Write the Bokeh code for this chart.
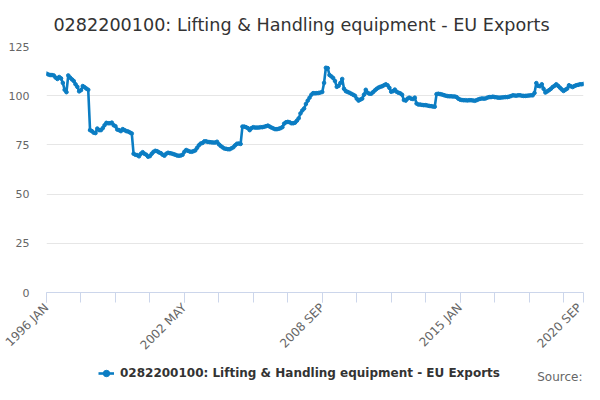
import math
from bokeh.plotting import figure
from bokeh.layouts import column
from bokeh.models import (Range1d, FixedTicker, Label, Legend, LegendItem, ColumnDataSource)
from bokeh.embed import file_html
from bokeh.resources import INLINE

title_text = "0282200100: Lifting & Handling equipment - EU Exports"
series_name = "0282200100: Lifting & Handling equipment - EU Exports"
source_text = "Source:"

month_names = ["JAN", "FEB", "MAR", "APR", "MAY", "JUN", "JUL", "AUG", "SEP", "OCT", "NOV", "DEC"]
years = list(range(1996, 2021))
categories = [f"{y} {m}" for y in years for m in month_names][:297]  # 1996 JAN .. 2020 SEP

values_1996 = [111.2, 110.8, 110.5, 110.5, 110.3, 109.2, 108.5, 109.5, 108.8, 106.5, 103.0, 101.8]
values_1997 = [110.3, 109.2, 108.3, 107.5, 105.8, 104.5, 102.2, 102.8, 104.9, 104.3, 103.6, 103.0]
values_1998 = [82.5, 82.0, 81.2, 81.0, 83.3, 82.5, 82.5, 83.5, 85.0, 86.2, 86.0, 86.0]
values_1999 = [86.3, 85.0, 84.5, 82.8, 82.5, 82.0, 83.0, 82.5, 82.0, 81.8, 81.3, 80.8]
values_2000 = [70.5, 70.0, 69.8, 69.2, 70.5, 71.3, 70.5, 70.0, 69.0, 69.3, 70.5, 71.5]
values_2001 = [72.0, 71.8, 71.2, 70.8, 70.0, 69.5, 70.5, 71.0, 70.8, 70.6, 70.3, 70.0]
values_2002 = [69.6, 69.5, 69.6, 70.0, 71.5, 72.4, 72.0, 71.6, 71.5, 71.8, 72.2, 73.5]
values_2003 = [74.8, 75.7, 76.0, 76.8, 76.8, 76.5, 76.4, 76.3, 76.2, 76.2, 76.6, 75.3]
values_2004 = [74.5, 73.8, 73.2, 73.0, 72.8, 72.8, 73.3, 73.8, 74.8, 75.6, 75.7, 75.5]
values_2005 = [84.3, 84.3, 84.0, 83.5, 82.5, 83.5, 84.0, 83.8, 83.8, 83.8, 84.0, 84.0]
values_2006 = [84.2, 84.5, 84.8, 84.3, 83.8, 83.4, 83.0, 83.0, 83.2, 83.5, 84.0, 85.8]
values_2007 = [86.5, 86.7, 86.5, 86.0, 86.0, 86.3, 87.3, 88.5, 91.0, 92.5, 93.5, 95.8]
values_2008 = [97.5, 99.0, 100.5, 101.3, 101.2, 101.3, 101.4, 101.6, 101.9, 106.5, 114.2, 114.0]
values_2009 = [110.5, 109.8, 109.0, 107.5, 104.5, 105.0, 106.5, 108.5, 103.5, 102.3, 101.9, 101.5]
values_2010 = [101.0, 100.5, 100.0, 98.5, 97.5, 98.0, 98.5, 100.5, 103.0, 101.5, 101.0, 101.0]
values_2011 = [101.8, 102.7, 103.5, 104.1, 104.5, 104.8, 105.3, 105.8, 105.3, 104.0, 102.0, 102.3]
values_2012 = [103.1, 102.0, 101.5, 101.2, 100.5, 97.8, 97.5, 98.5, 99.0, 98.5, 98.3, 99.0]
values_2013 = [96.0, 95.5, 95.5, 95.3, 95.2, 95.2, 95.0, 94.8, 94.7, 94.5, 94.4, 100.8]
values_2014 = [101.0, 100.8, 100.6, 100.3, 100.0, 99.8, 99.7, 99.7, 99.6, 99.6, 99.3, 98.5]
values_2015 = [98.0, 97.8, 97.7, 97.7, 97.6, 97.7, 97.7, 97.6, 97.4, 97.7, 98.1, 98.4]
values_2016 = [98.6, 98.5, 98.6, 99.0, 99.3, 99.3, 99.5, 99.3, 99.2, 99.0, 99.0, 99.1]
values_2017 = [99.2, 99.3, 99.3, 99.5, 99.8, 100.2, 100.1, 100.0, 100.2, 100.2, 100.0, 99.9]
values_2018 = [99.9, 100.0, 100.1, 100.2, 100.2, 101.4, 106.4, 105.0, 104.8, 105.8, 103.5, 101.6]
values_2019 = [102.2, 102.8, 103.5, 104.4, 105.0, 105.8, 105.0, 104.1, 103.2, 102.4, 103.0, 103.6]
values_2020 = [105.3, 104.8, 104.4, 104.9, 105.3, 105.5, 105.8, 105.8, 106.0]

values = (values_1996 + values_1997 + values_1998 + values_1999 + values_2000 + values_2001 +
          values_2002 + values_2003 + values_2004 + values_2005 + values_2006 + values_2007 +
          values_2008 + values_2009 + values_2010 + values_2011 + values_2012 + values_2013 +
          values_2014 + values_2015 + values_2016 + values_2017 + values_2018 + values_2019 +
          values_2020)

tick_labels = ["1996 JAN", "2002 MAY", "2008 SEP", "2015 JAN", "2020 SEP"]
y_ticks = [0, 25, 50, 75, 100, 125]

x_idx = list(range(len(categories)))
src = ColumnDataSource(dict(x=x_idx, y=values, cat=categories))

W = 584
H0, H1, H2 = 38, 322, 24
BL, BR = 46, 1
frame_w = W - BL - BR
line_color = "#0b7dc3"


def strip(height):
    f = figure(width=W, height=height, output_backend="svg", toolbar_location=None,
               x_range=Range1d(0, 1), y_range=Range1d(0, 1),
               x_axis_type=None, y_axis_type=None,
               min_border_left=BL, min_border_right=BR, min_border_top=0, min_border_bottom=0)
    f.outline_line_color = None
    f.xgrid.grid_line_color = None
    f.ygrid.grid_line_color = None
    return f


# title strip
p0 = strip(H0)
p0.add_layout(Label(x=301 - BL, y=H0 - 24, x_units="screen", y_units="screen",
                    text=title_text, text_align="center", text_baseline="alphabetic",
                    text_font="DejaVu Sans", text_font_size="17.6px", text_color="#333333"))

# main chart
p = figure(width=W, height=H1, output_backend="svg", toolbar_location=None,
           x_range=Range1d(0, len(categories) - 1), y_range=Range1d(0, 125),
           min_border_left=BL, min_border_right=BR, min_border_top=46 - H0,
           min_border_bottom=H1 - (293 - H0))
p.outline_line_color = None
p.background_fill_color = "white"
p.border_fill_color = "white"

p.line("x", "y", source=src, line_color=line_color, line_width=2.6)
p.scatter("x", "y", source=src, size=3.6, fill_color=line_color, line_color=line_color)

major_pos = [categories.index(t) for t in tick_labels]
minor_pos = [i for i in range(0, len(categories), 19)]
xa = p.xaxis[0]
xa.ticker = FixedTicker(ticks=major_pos, minor_ticks=minor_pos)
xa.major_label_overrides = {i: categories[i] for i in major_pos}
xa.major_label_orientation = math.pi / 4
xa.axis_line_color = "#ccd6eb"
xa.major_tick_line_color = "#ccd6eb"
xa.minor_tick_line_color = "#ccd6eb"
xa.major_tick_out = 10
xa.major_tick_in = 0
xa.minor_tick_out = 10
xa.minor_tick_in = 0
xa.major_label_text_font = "DejaVu Sans"
xa.major_label_text_font_size = "12px"
xa.major_label_text_color = "#666666"
xa.major_label_standoff = 3

ya = p.yaxis[0]
ya.ticker = FixedTicker(ticks=y_ticks)
ya.axis_line_color = None
ya.major_tick_line_color = None
ya.minor_tick_line_color = None
ya.major_label_text_font = "DejaVu Sans"
ya.major_label_text_font_size = "11px"
ya.major_label_text_color = "#666666"
ya.major_label_standoff = 11

p.xgrid.grid_line_color = None
p.ygrid.ticker = FixedTicker(ticks=y_ticks)
p.ygrid.grid_line_color = "#e6e6e6"

# legend / source strip
p2 = strip(H2)
lg_line = p2.line(x=[-5, -4], y=[-5, -4], line_color=line_color, line_width=2.6)
lg_pts = p2.scatter(x=[-5], y=[-5], size=4.5, fill_color=line_color, line_color=line_color)

legend = Legend(items=[LegendItem(label=series_name, renderers=[lg_line, lg_pts])],
                orientation="horizontal", location=(98 - BL, 3),
                label_text_font="DejaVu Sans", label_text_font_size="12px",
                label_text_font_style="bold", label_text_color="#333333",
                background_fill_alpha=0, border_line_color=None,
                glyph_width=16, glyph_height=16, label_standoff=6, padding=0, margin=0,
                label_height=16)
p2.add_layout(legend)

p2.add_layout(Label(x=frame_w - 1, y=8, x_units="screen", y_units="screen",
                    text=source_text, text_align="right", text_baseline="alphabetic",
                    text_font="DejaVu Sans", text_font_size="12px", text_color="#666666"))

layout = column(p0, p, p2, spacing=0)
open("out.html", "w").write(file_html(layout, INLINE))
